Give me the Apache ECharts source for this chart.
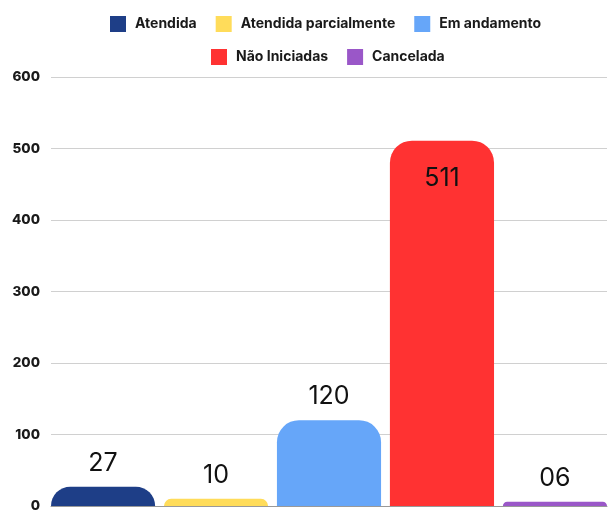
<!DOCTYPE html>
<html>
<head>
<meta charset="utf-8">
<script src="https://cdn.jsdelivr.net/npm/echarts@6/dist/echarts.min.js"></script>
<style>
  html, body { margin: 0; padding: 0; background: #fff; }
  #chart { width: 608px; height: 513px; }
</style>
</head>
<body>
<div id="chart"></div>
<script>
// status names (legend) and their counts
var statusNames = ["Atendida", "Atendida parcialmente", "Em andamento", "Não Iniciadas", "Cancelada"];
var statusValues = [27, 10, 120, 511, 6];
var statusLabels = ["27", "10", "120", "511", "06"];
var statusColors = ["#1e3e87", "#ffdc5a", "#66a6f9", "#ff3232", "#9a57c8"];
var yTicks = [0, 100, 200, 300, 400, 500, 600];

var myChart = echarts.init(document.getElementById("chart"));

var series = [];
for (var i = 0; i < statusNames.length; i++) {
  var big = statusValues[i] > 400;
  series.push({
    name: statusNames[i],
    type: "bar",
    data: [statusValues[i]],
    barGap: "8.5%",
    barCategoryGap: "0%",
    itemStyle: {
      color: statusColors[i],
      borderRadius: [22, 22, 0, 0]
    },
    label: {
      show: true,
      position: big ? "insideTop" : "top",
      distance: big ? 25 : 11,
      formatter: (function (t) { return function () { return t; }; })(statusLabels[i]),
      color: "#111",
      fontSize: 25,
      fontFamily: "Inter",
      fontWeight: "normal"
    }
  });
}

var legendText = {
  fontFamily: "Inter",
  fontWeight: 700,
  fontSize: 14,
  color: "#1a1a1a",
  padding: [0, 0, 0, 4]
};

var option = {
  animation: false,
  // two legends so each row is centred on its own (over the plot area)
  legend: [
    {
      data: statusNames.slice(0, 3),
      top: 11,
      left: 105,
      itemWidth: 16,
      itemHeight: 16,
      itemGap: 19,
      icon: "rect",
      textStyle: legendText
    },
    {
      data: statusNames.slice(3),
      top: 44,
      left: 206,
      itemWidth: 16,
      itemHeight: 16,
      itemGap: 19,
      icon: "rect",
      textStyle: legendText
    }
  ],
  grid: {
    left: 51,
    right: 1,
    top: 77,
    bottom: 6
  },
  xAxis: {
    type: "category",
    data: [""],
    axisTick: { show: false },
    axisLabel: { show: false },
    axisLine: { lineStyle: { color: "#999" } }
  },
  yAxis: {
    type: "value",
    min: yTicks[0],
    max: yTicks[yTicks.length - 1],
    interval: 100,
    axisLine: { show: false },
    axisTick: { show: false },
    splitLine: { lineStyle: { color: "#d0d0d0" } },
    axisLabel: {
      margin: 11,
      color: "#1a1a1a",
      fontFamily: "Inter",
      fontWeight: 800,
      fontSize: 13.5
    }
  },
  series: series
};
myChart.setOption(option);
</script>
</body>
</html>
